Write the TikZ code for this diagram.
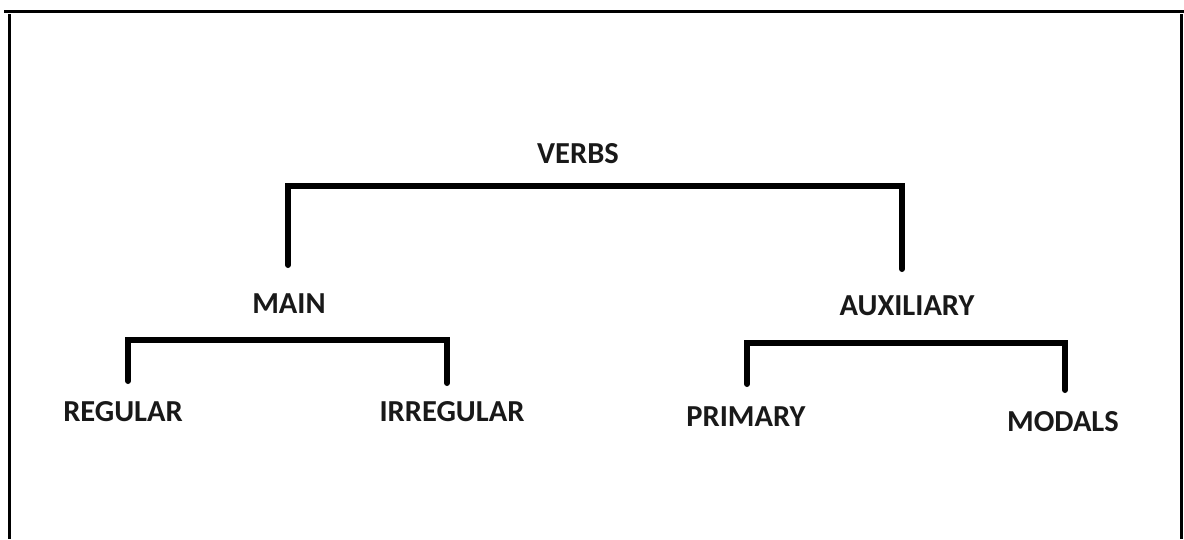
\documentclass[tikz,border=0pt]{standalone}
\usepackage{fontspec}
\setmainfont{Carlito}
\begin{document}
\begin{tikzpicture}[x=1pt,y=-1pt,
  lbl/.style={font=\bfseries\fontsize{30.5}{36}\selectfont, inner sep=0pt, anchor=center, text=black!90},
  bracket/.style={line width=6pt, line cap=round, line join=miter},
  frame/.style={line width=3pt}]
\useasboundingbox (0,0) rectangle (1184,539);
\fill[white] (0,0) rectangle (1184,539);
% frame
\coordinate (ftl) at (4,11);
\coordinate (ftr) at (1184,11);
\coordinate (fl1) at (9,14);
\coordinate (fl2) at (9,539);
\coordinate (fr1) at (1181.5,14);
\coordinate (fr2) at (1181.5,539);
\draw[frame] (ftl) -- (ftr);
\draw[frame] (fl1) -- (fl2);
\draw[frame] (fr1) -- (fr2);
% labels
\node[lbl] (verbs) at (578,154) {VERBS};
\node[lbl] (main) at (289,304) {MAIN};
\node[lbl] (aux) at (907,306) {AUXILIARY};
\node[lbl] (regular) at (123,412) {REGULAR};
\node[lbl] (irregular) at (452,412) {IRREGULAR};
\node[lbl] (primary) at (746,417) {PRIMARY};
\node[lbl] (modals) at (1063,422) {MODALS};
% bracket ends
\coordinate (vL) at (288,265);
\coordinate (vR) at (902,269);
\coordinate (mL) at (128,381);
\coordinate (mR) at (447,383);
\coordinate (aL) at (747,384);
\coordinate (aR) at (1065,390);
\draw[bracket] (vL) |- (595,186) -| (vR);
\draw[bracket] (mL) |- (300,340) -| (mR);
\draw[bracket] (aL) |- (900,343) -| (aR);
\end{tikzpicture}
\end{document}
